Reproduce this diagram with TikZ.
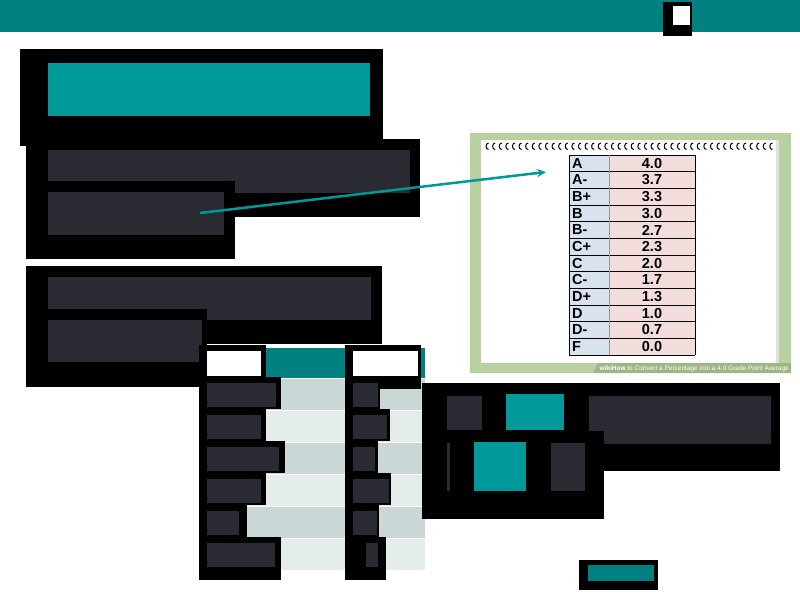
\documentclass[tikz,border=0pt]{standalone}
\usepackage{fontspec}
\setmainfont{Liberation Sans}
\usetikzlibrary{arrows.meta}
\definecolor{topTeal}{HTML}{008080}
\definecolor{accent}{HTML}{009999}
\definecolor{barGray}{HTML}{2A2A33}
\definecolor{rowDark}{HTML}{C9D7D7}
\definecolor{rowLight}{HTML}{E5ECEC}
\definecolor{frameGreen}{HTML}{B9D0A1}
\definecolor{capGreen}{HTML}{9DB683}
\definecolor{cellBlue}{HTML}{D9E3EF}
\definecolor{cellPink}{HTML}{F2DCDC}
\begin{document}
\begin{tikzpicture}[x=1pt,y=-1pt,
    ink/.style={fill=black},
    bar/.style={fill=barGray},
    grade/.style={anchor=west,inner sep=0pt,font=\fontsize{14.5}{14}\selectfont\bfseries},
    point/.style={inner sep=0pt,font=\fontsize{14.5}{14}\selectfont\bfseries},
    link/.style={draw=accent,line width=2.5pt,-{Stealth[length=9pt,width=8pt]}}]
  \useasboundingbox (0,0) rectangle (800,600);
  % header strip
  \fill[topTeal] (0,0) rectangle (800,32);
  \fill[ink] (663,2) rectangle (692,36);
  \fill[white] (673,6) rectangle (690,25);
  % title block
  \fill[ink] (20,49) rectangle (383,146);
  \fill[accent] (48,63) rectangle (370,116);
  % first text block
  \fill[ink] (26,139) rectangle (420,217);
  \fill[bar] (48,150) rectangle (410,193);
  \fill[ink] (26,181) rectangle (235,259);
  \fill[bar] (48,192) rectangle (224,235);
  % second text block
  \fill[ink] (26,266) rectangle (382,344);
  \fill[bar] (48,277) rectangle (371,320);
  \fill[ink] (26,309) rectangle (207,387);
  \fill[bar] (48,320) rectangle (202,362);
  % picture of the grade scale
  \fill[frameGreen] (470,133) rectangle (791,373);
  \fill[white] (481,140) rectangle (779,363);
  \fill[black!12] (776,140) rectangle (779,363);
  \fill[capGreen] (593,373) -- (598,363) -- (791,363) -- (791,373) -- cycle;
  \node[anchor=east,inner sep=0pt,text=white,font=\fontsize{6.5}{7}\selectfont]
    (caption) at (789,368.5) {\textbf{wikiHow} to Convert a Percentage into a 4.0 Grade Point Average};
  \foreach \x in {487,493.6,...,776}
    \draw[line width=1pt] (\x+1.6,143) .. controls (\x-1.8,143) and (\x-1.8,149.5) .. (\x+1.6,149.5);
  \fill[cellBlue] (569,155) rectangle (609,355);
  \fill[cellPink] (609,155) rectangle (695,355);
  \foreach \g/\p [count=\i] in {A/4.0,A-/3.7,B+/3.3,B/3.0,B-/2.7,C+/2.3,C/2.0,C-/1.7,D+/1.3,D/1.0,D-/0.7,F/0.0} {
    \pgfmathsetmacro{\yt}{155+(\i-1)*200/12}
    \pgfmathsetmacro{\ym}{\yt+200/24}
    \node[grade] (g\i) at (572,\ym) {\g};
    \node[point] (p\i) at (652,\ym) {\p};
    \draw[line width=0.8pt] (569,\yt) -- (695,\yt);
  }
  \draw[line width=0.8pt] (569,355) -- (695,355);
  \draw[black!40,line width=0.8pt] (609,155) -- (609,355);
  \draw[line width=1pt] (569,155) -- (569,355);
  \draw[line width=1pt] (695,155) -- (695,355);
  % table
  \fill[topTeal] (207,348) rectangle (425,378);
  \foreach \i in {1,...,6} {
    \pgfmathsetmacro{\yt}{379+32*(\i-1)}
    \pgfmathtruncatemacro{\odd}{mod(\i,2)}
    \ifnum\odd=1 \fill[rowDark] (207,\yt) rectangle (425,\yt+31);
    \else \fill[rowLight] (207,\yt) rectangle (425,\yt+31); \fi
  }
  \fill[ink] (199,345) rectangle (266,377);
  \fill[ink] (345,345) rectangle (421,389);
  \foreach \lb/\lr/\rb/\rl/\rr [count=\i] in {281/276/380/353/378,266/261/390/353/387,285/279/378/353/375,
      266/261/391/353/389,247/239/379/353/377,281/275/386/366/378} {
    \pgfmathsetmacro{\yt}{383+32*(\i-1)}
    \fill[ink] (199,\yt-6) rectangle (\lb,\yt+26+\ifnum\i=6 11\else 0\fi);
    \fill[ink] (345,\yt-6) rectangle (\rb,\yt+26+\ifnum\i=6 11\else 0\fi);
    \fill[bar] (207,\yt) rectangle (\lr,\yt+24);
    \fill[bar] (\rl,\yt) rectangle (\rr,\yt+24);
  }
  \fill[white] (207,351) rectangle (261,376);
  \fill[white] (353,351) rectangle (418,376);
  % controls block
  \fill[ink] (422,383) rectangle (780,471);
  \fill[bar] (447,396) rectangle (482,430);
  \fill[accent] (506,394) rectangle (564,430);
  \fill[bar] (589,396) rectangle (771,444);
  \fill[ink] (422,431) rectangle (604,519);
  \fill[bar] (447,443) rectangle (450,491);
  \fill[accent] (474,442) rectangle (526,491);
  \fill[bar] (551,443) rectangle (585,491);
  % button
  \fill[ink] (579,560) rectangle (658,590);
  \fill[topTeal] (588,565) rectangle (654,581);
  % arrow to the picture
  \coordinate (src) at (200,213);
  \coordinate (dst) at (546,172);
  \draw[link] (src) -- (dst);
\end{tikzpicture}
\end{document}
